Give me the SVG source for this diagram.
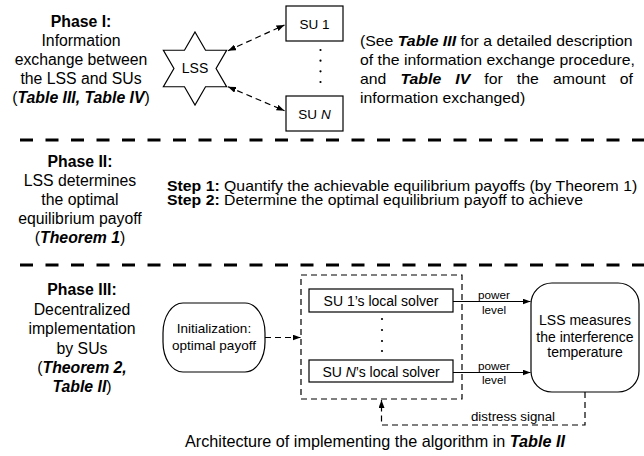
<svg xmlns="http://www.w3.org/2000/svg" width="644" height="456" viewBox="0 0 644 456">
<style>
text{font-family:"Liberation Sans",Arial,sans-serif;fill:#000}
.ph{font-size:15.8px;text-anchor:middle}
.b{font-weight:bold}
.bi{font-weight:bold;font-style:italic}
.i{font-style:italic}
.sep{stroke:#000;stroke-width:3;stroke-dasharray:13 12.5;fill:none}
.box{fill:#fff;stroke:#000;stroke-width:1.2}
.dash{fill:none;stroke:#000;stroke-width:1.2;stroke-dasharray:6 4}
.solid{fill:none;stroke:#000;stroke-width:1.2}
.t14{font-size:14px}
.mid{text-anchor:middle}
</style>
<defs>
<marker id="ah" viewBox="0 0 8 6" refX="8" refY="3" markerWidth="8" markerHeight="6" markerUnits="userSpaceOnUse" orient="auto-start-reverse">
<path d="M0,0 L8,3 L0,6 z" fill="#000"/>
</marker>
</defs>
<rect width="644" height="456" fill="#fff"/>

<!-- separators -->
<line class="sep" x1="20" y1="140" x2="644" y2="140"/>
<line class="sep" x1="20" y1="265" x2="644" y2="265"/>

<!-- Phase labels -->
<g id="phase1-label">
<text class="ph" x="81" y="27"><tspan class="b">Phase I:</tspan></text>
<text class="ph" x="81" y="46">Information</text>
<text class="ph" x="81" y="65">exchange between</text>
<text class="ph" x="81" y="84">the LSS and SUs</text>
<text class="ph" x="81" y="103">(<tspan class="bi">Table III, Table IV</tspan>)</text>
</g>
<g id="phase2-label">
<text class="ph" x="80" y="167"><tspan class="b">Phase II:</tspan></text>
<text class="ph" x="80" y="186">LSS determines</text>
<text class="ph" x="80" y="205">the optimal</text>
<text class="ph" x="80" y="224">equilibrium payoff</text>
<text class="ph" x="80" y="243">(<tspan class="bi">Theorem 1</tspan>)</text>
</g>
<g id="phase3-label">
<text class="ph" x="82" y="295"><tspan class="b">Phase III:</tspan></text>
<text class="ph" x="82" y="314.5">Decentralized</text>
<text class="ph" x="82" y="334">implementation</text>
<text class="ph" x="82" y="353.5">by SUs</text>
<text class="ph" x="82" y="373">(<tspan class="bi">Theorem 2,</tspan></text>
<text class="ph" x="82" y="392"><tspan class="bi">Table II</tspan>)</text>
</g>

<!-- Phase I nodes -->
<g id="lss-star">
<polygon class="box" points="195,32 205.54,50.25 226.61,50.25 216.07,68.5 226.61,86.75 205.54,86.75 195,105 184.46,86.75 163.39,86.75 173.93,68.5 163.39,50.25 184.46,50.25"/>
<text class="t14 mid" x="195" y="73">LSS</text>
</g>
<g id="su1">
<rect class="box" x="286" y="6" width="57" height="35"/>
<text class="mid" style="font-size:13.5px" x="314.5" y="28.5">SU 1</text>
</g>
<g id="suN">
<rect class="box" x="286" y="96" width="57" height="35"/>
<text class="mid" style="font-size:13.5px" x="314.5" y="118.5">SU <tspan class="i">N</tspan></text>
</g>
<g id="su-dots">
<circle cx="320.5" cy="50" r="1.1"/>
<circle cx="320.5" cy="60.7" r="1.1"/>
<circle cx="320.5" cy="71.3" r="1.1"/>
<circle cx="320.5" cy="82" r="1.1"/>
</g>
<g id="phase1-note" transform="translate(360,0) scale(1.13,1)">
<text class="t14" x="0" y="46.5">(See <tspan class="bi">Table III</tspan> for a detailed description</text>
<text class="t14" x="0" y="65.5">of the information exchange procedure,</text>
<text class="t14" x="0" y="84.5" style="word-spacing:8.6px">and <tspan class="bi">Table IV</tspan> for the amount of</text>
<text class="t14" x="0" y="103.5">information exchanged)</text>
</g>

<!-- Phase II steps -->
<g id="phase2-steps" transform="translate(167,0) scale(1.13,1)">
<text class="t14" x="0" y="191"><tspan class="b">Step 1:</tspan> Quantify the achievable equilibrium payoffs (by Theorem 1)</text>
<text class="t14" x="0" y="205.5"><tspan class="b">Step 2:</tspan> Determine the optimal equilibrium payoff to achieve</text>
</g>

<!-- Phase III nodes -->
<g id="init">
<rect class="box" x="163" y="303" width="102" height="69" rx="20" ry="30"/>
<text class="mid" style="font-size:13.5px" x="214" y="333">Initialization:</text>
<text class="mid" style="font-size:13.5px" x="214" y="350">optimal payoff</text>
</g>
<g id="solver-group">
<rect class="dash" x="301" y="275" width="161" height="124"/>
</g>
<g id="su1-solver">
<rect class="box" x="309" y="289" width="144" height="23"/>
<text class="t14 mid" x="381" y="306">SU 1’s local solver</text>
</g>
<g id="suN-solver">
<rect class="box" x="309" y="360" width="144" height="22"/>
<text class="t14 mid" x="381" y="376.5">SU <tspan class="i">N</tspan>’s local solver</text>
</g>
<g id="solver-dots">
<circle cx="382" cy="319" r="1.1"/>
<circle cx="382" cy="330" r="1.1"/>
<circle cx="382" cy="341" r="1.1"/>
<circle cx="382" cy="351" r="1.1"/>
</g>
<g id="lss-measure">
<rect class="box" x="531" y="283" width="108" height="109" rx="21" ry="21"/>
<text class="t14 mid" x="585" y="325">LSS measures</text>
<text class="t14 mid" x="585" y="341.5">the interference</text>
<text class="t14 mid" x="585" y="357">temperature</text>
</g>

<!-- connectors -->
<g id="connectors">
<line class="dash" x1="228" y1="50.7" x2="284.5" y2="25" marker-start="url(#ah)" marker-end="url(#ah)"/>
<line class="dash" x1="228" y1="86.7" x2="284.5" y2="110.7" marker-start="url(#ah)" marker-end="url(#ah)"/>
<line class="dash" x1="265" y1="337.5" x2="300.5" y2="337.5" marker-end="url(#ah)"/>
<line class="solid" x1="453" y1="301.5" x2="530.5" y2="301.5" marker-end="url(#ah)"/>
<line class="solid" x1="453" y1="372.5" x2="530.5" y2="372.5" marker-end="url(#ah)"/>
<polyline class="dash" points="585,392 585,425 381.5,425 381.5,400" marker-end="url(#ah)"/>
<text style="font-size:11.7px" class="mid" x="494" y="299">power</text>
<text style="font-size:11.7px" class="mid" x="494" y="314">level</text>
<text style="font-size:11.7px" class="mid" x="494" y="369.5">power</text>
<text style="font-size:11.7px" class="mid" x="494" y="384">level</text>
<text style="font-size:12.3px" x="471" y="421" textLength="84" lengthAdjust="spacingAndGlyphs">distress signal</text>
</g>

<!-- caption -->
<text style="font-size:16.2px" x="185" y="447">Architecture of implementing the algorithm in <tspan class="bi">Table II</tspan></text>
</svg>
